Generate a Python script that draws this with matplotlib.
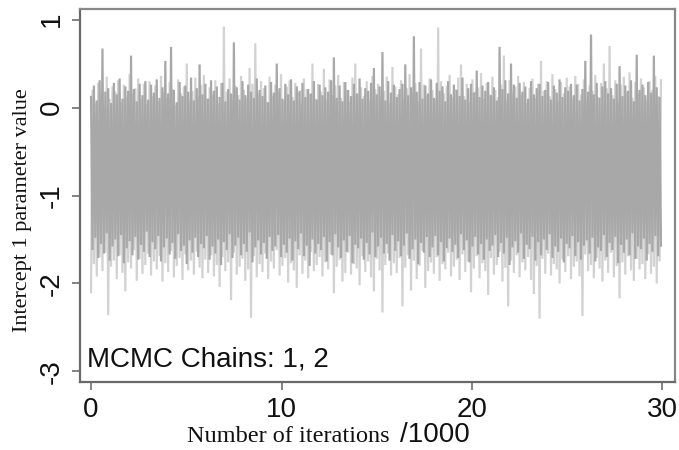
import numpy as np
import matplotlib
matplotlib.use("Agg")
import matplotlib.pyplot as plt

# Per-bin (150 iterations) envelope readings of each chain: max and min value
bin_size_k = 0.15  # thousands of iterations per bin

chain1_hi = [
    0.12, 0.25, 0.08, 0.31, 0.67, 0.18, 0.22, 0.05, 0.28, 0.15, 0.33, 0.10, 0.24, 0.19, 0.59, 0.21, 0.07, 0.27, 0.14, 0.30,
    0.09, 0.26, 0.17, 0.32, 0.11, 0.23, 0.53, 0.16, 0.69, 0.20, 0.06, 0.29, 0.13, 0.25, 0.18, 0.34, 0.08, 0.22, 0.49, 0.15,
    0.27, 0.10, 0.31, 0.19, 0.24, 0.12, 0.28, 0.07, 0.21, 0.16, 0.74, 0.23, 0.09, 0.30, 0.14, 0.26, 0.18, 0.11, 0.33, 0.20,
    0.13, 0.25, 0.06, 0.29, 0.17, 0.50, 0.22, 0.10, 0.27, 0.15, 0.32, 0.08, 0.24, 0.19, 0.28, 0.12, 0.21, 0.16, 0.30, 0.09,
    0.26, 0.14, 0.23, 0.18, 0.31, 0.57, 0.11, 0.25, 0.07, 0.29, 0.20, 0.13, 0.27, 0.16, 0.33, 0.10, 0.22, 0.19, 0.28, 0.45,
    0.15, 0.24, 0.63, 0.08, 0.30, 0.17, 0.26, 0.12, 0.21, 0.27, 0.49, 0.14, 0.23, 0.81, 0.18, 0.29, 0.10, 0.25, 0.16, 0.32,
    0.11, 0.28, 0.19, 0.24, 0.07, 0.30, 0.15, 0.26, 0.20, 0.13, 0.34, 0.09, 0.22, 0.27, 0.17, 0.42, 0.12, 0.25, 0.19, 0.29,
    0.14, 0.23, 0.08, 0.69, 0.21, 0.31, 0.16, 0.50, 0.26, 0.11, 0.28, 0.18, 0.24, 0.10, 0.30, 0.15, 0.22, 0.27, 0.13, 0.20,
    0.29, 0.09, 0.25, 0.17, 0.32, 0.12, 0.23, 0.19, 0.27, 0.14, 0.26, 0.08, 0.21, 0.53, 0.18, 0.83, 0.15, 0.28, 0.11, 0.24,
    0.30, 0.16, 0.22, 0.10, 0.27, 0.47, 0.13, 0.25, 0.19, 0.31, 0.07, 0.60, 0.20, 0.26, 0.14, 0.29, 0.17, 0.59, 0.23, 0.12,
]

chain1_lo = [
    -1.62, -1.48, -1.71, -1.55, -1.66, -1.43, -1.74, -1.58, -1.50, -1.69, -1.45, -1.77, -1.60, -1.52, -1.68, -1.47, -1.73, -1.56, -1.64, -1.41,
    -1.70, -1.53, -1.61, -1.46, -1.75, -1.59, -1.49, -1.67, -1.54, -1.72, -1.44, -1.63, -1.57, -1.78, -1.51, -1.65, -1.48, -1.70, -1.55, -1.60,
    -1.46, -1.73, -1.58, -1.66, -1.50, -1.79, -1.53, -1.62, -1.44, -1.71, -1.57, -1.48, -1.68, -1.55, -1.64, -1.42, -1.76, -1.59, -1.51, -1.67,
    -1.54, -1.72, -1.47, -1.63, -1.58, -1.45, -1.70, -1.56, -1.65, -1.49, -1.74, -1.52, -1.61, -1.43, -1.69, -1.57, -1.80, -1.50, -1.66, -1.55,
    -1.62, -1.47, -1.75, -1.53, -1.68, -1.44, -1.59, -1.71, -1.51, -1.64, -1.46, -1.77, -1.56, -1.60, -1.49, -1.73, -1.54, -1.67, -1.42, -1.70,
    -1.58, -1.48, -1.66, -1.55, -1.74, -1.45, -1.63, -1.52, -1.69, -1.57, -1.43, -1.72, -1.61, -1.50, -1.78, -1.54, -1.65, -1.47, -1.70, -1.59,
    -1.46, -1.68, -1.53, -1.75, -1.60, -1.49, -1.64, -1.56, -1.71, -1.44, -1.62, -1.51, -1.76, -1.58, -1.47, -1.67, -1.55, -1.73, -1.50, -1.63,
    -1.57, -1.45, -1.70, -1.54, -1.66, -1.48, -1.79, -1.59, -1.52, -1.65, -1.43, -1.72, -1.56, -1.61, -1.47, -1.74, -1.53, -1.68, -1.50, -1.62,
    -1.44, -1.71, -1.58, -1.64, -1.49, -1.76, -1.55, -1.60, -1.46, -1.69, -1.53, -1.73, -1.57, -1.51, -1.66, -1.48, -1.75, -1.59, -1.63, -1.45,
    -1.70, -1.54, -1.62, -1.47, -1.77, -1.56, -1.65, -1.50, -1.68, -1.43, -1.72, -1.58, -1.61, -1.49, -1.74, -1.55, -1.64, -1.46, -1.69, -1.57,
]

chain2_hi = [
    0.20, 0.05, 0.28, 0.14, 0.02, 0.35, 0.10, 0.24, 0.18, 0.31, 0.06, 0.26, 0.12, 0.38, 0.15, 0.22, 0.33, 0.09, 0.27, 0.04,
    0.30, 0.13, 0.25, 0.08, 0.36, 0.17, 0.11, 0.29, 0.21, 0.03, 0.32, 0.16, 0.24, 0.50, 0.07, 0.19, 0.34, 0.12, 0.26, 0.37,
    0.10, 0.23, 0.15, 0.31, 0.05, 0.28, 0.92, 0.18, 0.33, 0.09, 0.25, 0.14, 0.36, 0.20, 0.11, 0.45, 0.27, 0.73, 0.16, 0.30,
    0.22, 0.06, 0.35, 0.13, 0.26, 0.19, 0.38, 0.08, 0.24, 0.31, 0.12, 0.28, 0.17, 0.04, 0.33, 0.21, 0.15, 0.50, 0.10, 0.27,
    0.18, 0.44, 0.09, 0.32, 0.14, 0.25, 0.37, 0.11, 0.29, 0.20, 0.06, 0.34, 0.50, 0.16, 0.23, 0.13, 0.30, 0.08, 0.36, 0.21,
    0.27, 0.12, 0.19, 0.35, 0.05, 0.46, 0.24, 0.15, 0.31, 0.10, 0.22, 0.38, 0.17, 0.28, 0.07, 0.67, 0.26, 0.14, 0.33, 0.20,
    0.09, 0.91, 0.30, 0.16, 0.25, 0.37, 0.11, 0.21, 0.34, 0.49, 0.13, 0.27, 0.06, 0.32, 0.18, 0.23, 0.39, 0.10, 0.28, 0.15,
    0.35, 0.20, 0.12, 0.26, 0.59, 0.08, 0.31, 0.17, 0.24, 0.36, 0.14, 0.29, 0.05, 0.22, 0.33, 0.11, 0.27, 0.53, 0.19, 0.30,
    0.13, 0.38, 0.21, 0.07, 0.29, 0.16, 0.34, 0.24, 0.10, 0.36, 0.27, 0.15, 0.32, 0.09, 0.25, 0.19, 0.37, 0.12, 0.28, 0.50,
    0.22, 0.70, 0.14, 0.31, 0.06, 0.26, 0.35, 0.18, 0.40, 0.11, 0.29, 0.16, 0.33, 0.23, 0.08, 0.30, 0.20, 0.36, 0.13, 0.31,
]

chain2_lo = [
    -2.10, -1.78, -1.92, -1.70, -1.86, -1.65, -2.36, -1.81, -1.74, -1.95, -1.68, -1.88, -2.09, -1.76, -1.83, -1.62, -1.97, -1.72, -1.89, -1.79,
    -1.66, -1.91, -1.75, -1.84, -1.69, -1.98, -1.77, -1.87, -1.63, -1.93, -1.80, -1.71, -1.96, -1.67, -1.85, -1.74, -1.90, -1.64, -1.82, -1.94,
    -1.73, -1.88, -1.68, -1.92, -1.79, -2.04, -1.70, -1.86, -1.76, -2.19, -1.65, -1.90, -1.81, -1.72, -1.97, -1.84, -2.39, -1.69, -1.93, -1.78,
    -1.87, -1.66, -1.95, -1.75, -1.83, -1.62, -1.91, -1.80, -1.71, -1.99, -1.77, -1.85, -2.05, -1.68, -1.89, -1.74, -1.94, -1.64, -1.86, -1.79,
    -1.70, -1.92, -1.76, -1.84, -1.67, -2.11, -1.81, -1.73, -1.98, -1.88, -1.65, -1.90, -1.78, -1.83, -2.02, -1.69, -1.87, -1.75, -1.93, -2.09,
    -1.72, -1.85, -2.33, -1.79, -1.66, -1.91, -1.77, -1.88, -1.71, -2.26, -1.82, -1.68, -2.08, -1.74, -1.95, -1.80, -1.63, -2.05, -1.86, -1.76,
    -1.89, -1.70, -1.97, -1.78, -1.84, -1.65, -1.92, -1.81, -1.73, -1.96, -1.67, -1.87, -1.75, -2.10, -1.83, -1.69, -1.94, -1.77, -1.86, -2.13,
    -1.71, -1.90, -1.79, -1.64, -1.98, -1.82, -2.26, -1.74, -1.88, -1.68, -1.93, -1.76, -1.85, -1.70, -1.96, -2.12, -1.80, -2.40, -1.72, -1.89,
    -1.66, -1.91, -1.78, -1.84, -2.00, -1.73, -1.87, -1.69, -1.95, -1.81, -1.75, -1.92, -2.37, -1.67, -1.86, -1.79, -1.94, -1.71, -1.83, -1.98,
    -1.74, -1.88, -1.65, -1.93, -1.80, -2.17, -1.76, -1.90, -1.69, -1.85, -1.97, -1.72, -1.84, -1.78, -1.95, -1.67, -1.89, -1.81, -2.00, -1.75,
]

x_ticks = [0, 10, 20, 30]
y_ticks = [-3, -2, -1, 0, 1]
annotation = "MCMC Chains: 1, 2"

# Build traces: alternate bin max/min so the line sweeps each bin's range
n = len(chain1_hi)
x = np.arange(2 * n) * (bin_size_k / 2)
y1 = np.column_stack([chain1_hi, chain1_lo]).ravel()
y2 = np.column_stack([chain2_lo, chain2_hi]).ravel()

W, H = 679, 450
fig = plt.figure(figsize=(W / 100, H / 100), dpi=100)
ax = fig.add_axes([80 / W, (H - 382) / H, (675 - 80) / W, (382 - 9) / H])

ax.plot(x, y2, color="#d2d2d2", lw=1.6, solid_joinstyle="miter")
ax.plot(x, y1, color="#a8a8a8", lw=1.6, solid_joinstyle="miter")

ax.set_xlim(-0.58, 30.66)
ax.set_ylim(-3.12, 1.12)
ax.set_xticks(x_ticks)
ax.set_yticks(y_ticks)

sans = "Liberation Sans"
serif = "Liberation Serif"
ax.set_xticklabels([str(v) for v in x_ticks], fontfamily=sans, fontsize=20, color="#111111")
ax.set_yticklabels([str(v) for v in y_ticks], fontfamily=sans, fontsize=20, color="#111111",
                   rotation=90, va="center")
ax.tick_params(axis="both", direction="out", length=6, width=1.2, color="#6e6e6e", pad=5)

for name, s in ax.spines.items():
    s.set_color("#6a6a6a" if name in ("left", "bottom") else "#888888")
    s.set_linewidth(1.6)

ax.text(0.012, 0.025, annotation, transform=ax.transAxes, fontfamily=sans, fontsize=20,
        color="#111111", ha="left", va="bottom")

fig.text(23 / W, 1 - 210 / H, "Intercept 1 parameter value", rotation=90, fontfamily=serif,
         fontsize=16, ha="center", va="center", color="#111111")
fig.text(390 / W, 1 - 442 / H, "Number of iterations", fontfamily=serif, fontsize=17.5,
         ha="right", va="baseline", color="#111111")
fig.text(400 / W, 1 - 442 / H, "/1000", fontfamily=sans, fontsize=20,
         ha="left", va="baseline", color="#111111")

fig.savefig("out.png", dpi=100)
